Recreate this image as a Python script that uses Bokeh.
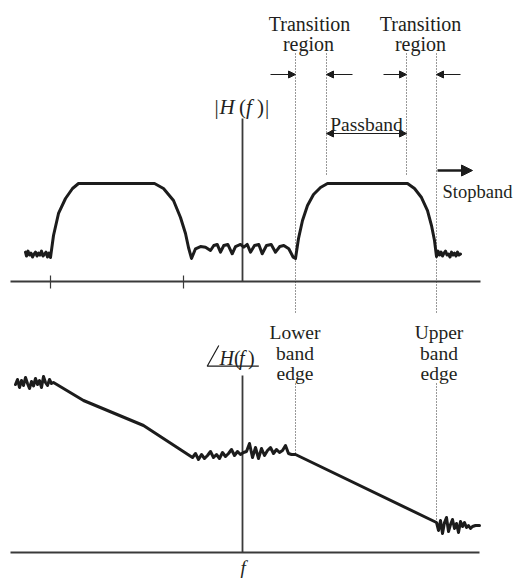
from bokeh.plotting import figure
from bokeh.models import Range1d, Label, Arrow, NormalHead
from bokeh.embed import file_html
from bokeh.resources import INLINE

# ---------------- data ----------------
# magnitude |H(f)| (passband level = 1), frequency in arbitrary units (0 at the vertical axis)
stop_lo_f = [-217, -216, -214.5, -213, -211.5, -210, -208.5, -207, -205.5, -204,
             -202.5, -201, -199.5, -198, -196.5, -195, -193.5]
stop_lo_m = [0.30, 0.26, 0.31, 0.27, 0.29, 0.25, 0.28, 0.30, 0.26, 0.29,
             0.27, 0.31, 0.26, 0.28, 0.30, 0.25, 0.29]
rise1_f = [-192, -189, -184, -177, -170, -164]
rise1_m = [0.245, 0.469, 0.694, 0.847, 0.949, 1.0]
fall1_f = [-88, -79, -69, -62, -57, -54, -51]
fall1_m = [1.0, 0.949, 0.827, 0.653, 0.49, 0.347, 0.235]
ripple_f = [-47, -42, -37, -32, -28.7, -25.3, -22, -18.7, -14.7, -10.3, -7, -2, 1.3,
            4.7, 8, 12, 16.3, 19.7, 24, 28.7, 33, 37.3, 41.3, 46.3, 50.7]
ripple_m = [0.334, 0.357, 0.350, 0.316, 0.367, 0.378, 0.299, 0.367, 0.378, 0.283, 0.357,
            0.378, 0.350, 0.378, 0.299, 0.367, 0.378, 0.283, 0.367, 0.378, 0.299, 0.357,
            0.367, 0.334, 0.248]
rise2_f = [53, 56, 60, 65, 71, 78, 85]
rise2_m = [0.235, 0.439, 0.622, 0.776, 0.888, 0.959, 1.0]
fall2_f = [165, 172, 179, 185, 189, 192, 194]
fall2_m = [1.0, 0.949, 0.857, 0.724, 0.571, 0.418, 0.255]
stop_hi_f = [195.5, 197, 198.5, 200, 201.5, 203, 204.5, 206, 207.5, 209, 210.5,
             212, 213.5, 215, 216.5, 218]
stop_hi_m = [0.31, 0.27, 0.30, 0.26, 0.29, 0.31, 0.27, 0.28, 0.25, 0.30, 0.27,
             0.29, 0.26, 0.30, 0.27, 0.28]

# phase angle H(f) (arbitrary units)
ph_lo_f = [-227, -225, -223, -221, -219, -217, -215, -213, -211, -209, -207, -205,
           -203, -201, -199, -197, -195, -193, -191]
ph_lo_p = [1.36, 1.46, 1.30, 1.44, 1.34, 1.50, 1.38, 1.28, 1.42, 1.33, 1.48, 1.36,
           1.44, 1.30, 1.52, 1.40, 1.34, 1.46, 1.38]
ph_slope1_f = [-189, -159, -99, -50]
ph_slope1_p = [1.40, 1.04, 0.54, -0.10]
ph_mid_f = [-47, -44, -41, -38, -35, -32, -29, -26, -23, -20, -17, -14, -11, -8, -5,
            -2, 1, 4, 7, 10, 13, 16, 19, 22, 25, 28, 31, 34, 37, 40, 43, 46, 49]
ph_mid_p = [-0.02, -0.14, -0.04, -0.12, -0.06, 0.02, -0.10, -0.04, -0.12, 0.00, -0.08,
            -0.02, 0.06, -0.06, 0.02, -0.04, 0.00, 0.02, 0.18, -0.10, 0.10, -0.12, 0.08,
            -0.06, 0.04, 0.10, -0.02, 0.06, 0.00, 0.04, 0.14, -0.02, -0.04]
ph_slope2_f = [53, 194]
ph_slope2_p = [-0.04, -1.40]
ph_hi_f = [196, 198, 200, 202, 204, 206, 208, 210, 212, 214, 216, 218, 220, 222,
           224, 226, 228, 230, 233, 237]
ph_hi_p = [-1.56, -1.36, -1.62, -1.40, -1.30, -1.58, -1.44, -1.34, -1.52, -1.42, -1.60,
           -1.38, -1.48, -1.40, -1.50, -1.46, -1.52, -1.48, -1.46, -1.46]

# band edges and passband edges
lower_edge = 53
upper_edge = 194
pass_lo = 84
pass_hi = 164
neg_ticks = [-192, -59]

# ---------------- layout helpers (picture pixels -> data units, annotations only) ----
def X(px):
    return px - 242

def M(py):
    return (281 - py) / 98.0

def P(py):
    return (452 - py) / 50.0

INK = "#1c1c1c"
AX = "#3a3a3a"
FONT = "Liberation Serif"

W, H = 514, 579
p = figure(width=W, height=H, x_range=Range1d(X(0), X(W)),
           y_range=Range1d(M(H), M(0)), output_backend="svg",
           toolbar_location=None, x_axis_type=None, y_axis_type=None,
           min_border=0, outline_line_color=None, background_fill_color="white")
p.extra_y_ranges = {"phase": Range1d(P(H), P(0))}

# ---------------- axes ----------------
p.line([X(10), X(480)], [0, 0], line_color=AX, line_width=1.8)
p.line([0, 0], [M(118), 0], line_color=AX, line_width=1.8)
for t in neg_ticks:
    p.line([t, t], [M(275), M(288)], line_color=AX, line_width=1.2)
p.line([X(10), X(479)], [P(552), P(552)], line_color=AX, line_width=1.8,
       y_range_name="phase")
p.line([0, 0], [P(375), P(552)], line_color=AX, line_width=1.8, y_range_name="phase")

# ---------------- dotted guide lines ----------------
dot = dict(line_color="#333333", line_width=1, line_dash="1 2")
for e in (lower_edge, upper_edge):
    p.line([e, e], [M(53), M(312)], **dot)
for e in (pass_lo, pass_hi):
    p.line([e, e], [M(53), M(175)], **dot)
p.line([lower_edge, lower_edge], [P(383), ph_slope2_p[0]], y_range_name="phase", **dot)
p.line([upper_edge, upper_edge], [P(383), ph_slope2_p[-1]], y_range_name="phase", **dot)

# ---------------- magnitude curve ----------------
mag_f = stop_lo_f + rise1_f + fall1_f + ripple_f + rise2_f + fall2_f + stop_hi_f
mag_m = stop_lo_m + rise1_m + fall1_m + ripple_m + rise2_m + fall2_m + stop_hi_m
p.line(mag_f, mag_m, line_color=INK, line_width=3, line_join="round", line_cap="round")

# ---------------- phase curve ----------------
ph_f = ph_lo_f + ph_slope1_f + ph_mid_f + ph_slope2_f + ph_hi_f
ph_p = ph_lo_p + ph_slope1_p + ph_mid_p + ph_slope2_p + ph_hi_p
p.line(ph_f, ph_p, line_color=INK, line_width=3, line_join="round", line_cap="round",
       y_range_name="phase")

# ---------------- arrows ----------------
def head(size):
    return NormalHead(size=size, line_color=INK, fill_color=INK, line_width=1)

ya = M(74)
p.add_layout(Arrow(end=head(7), x_start=X(270), y_start=ya, x_end=lower_edge, y_end=ya,
                   line_color=INK, line_width=1))
p.add_layout(Arrow(end=head(7), x_start=X(352), y_start=ya, x_end=pass_lo, y_end=ya,
                   line_color=INK, line_width=1))
p.add_layout(Arrow(end=head(7), x_start=X(383), y_start=ya, x_end=pass_hi, y_end=ya,
                   line_color=INK, line_width=1))
p.add_layout(Arrow(end=head(7), x_start=X(460), y_start=ya, x_end=upper_edge, y_end=ya,
                   line_color=INK, line_width=1))
yp = M(133)
p.add_layout(Arrow(start=head(7), end=head(7), x_start=pass_lo, y_start=yp,
                   x_end=pass_hi, y_end=yp, line_color=INK, line_width=1))
ys = M(170)
p.add_layout(Arrow(end=head(11), x_start=X(437), y_start=ys, x_end=X(472), y_end=ys,
                   line_color=INK, line_width=2.5))

# ---------------- labels ----------------
def lab(x, y, text, size="20px", align="center", style="normal", rng="default"):
    p.add_layout(Label(x=x, y=y, text=text, text_font=FONT, text_font_size=size,
                       text_align=align, text_baseline="alphabetic",
                       text_font_style=style, text_color="#231f20", y_range_name=rng))

lab(X(309), M(23), "Transition")
lab(X(308), M(43), "region")
lab(X(420), M(23), "Transition")
lab(X(420), M(43), "region")
lab(X(366), M(124), "Passband", size="19.5px")
lab(X(442), M(191), "Stopband", size="18.5px", align="left")

for cx, word in ((294.5, "Lower"), (438.5, "Upper")):
    lab(X(cx), P(332), word, size="19.5px", rng="phase")
    lab(X(cx), P(353), "band", size="19.5px", rng="phase")
    lab(X(cx), P(373), "edge", size="19.5px", rng="phase")

# |H(f)|
yb = M(106)
lab(X(214), yb, "|", size="21px", align="left")
lab(X(219), yb, "H", size="21px", align="left", style="italic")
lab(X(238.5), yb, "(", size="21px", align="left")
lab(X(245.5), yb, "f", size="21px", align="left", style="italic")
lab(X(256.5), yb, ")", size="21px", align="left")
lab(X(264.5), yb, "|", size="21px", align="left")

# angle H(f)
yb2 = P(357)
p.line([X(218.3), X(206.7), X(258.3)], [P(345), P(365.7), P(365.7)],
       line_color=INK, line_width=1.2, y_range_name="phase")
lab(X(219), yb2, "H", size="20px", align="left", style="italic", rng="phase")
lab(X(233.5), yb2, "(", size="20px", align="left", rng="phase")
lab(X(238.5), yb2, "f", size="20px", align="left", style="italic", rng="phase")
lab(X(247.5), yb2, ")", size="20px", align="left", rng="phase")

# f
lab(X(240), P(567), "f", size="19px", align="left", style="italic", rng="phase")

open("out.html", "w").write(file_html(p, INLINE))
